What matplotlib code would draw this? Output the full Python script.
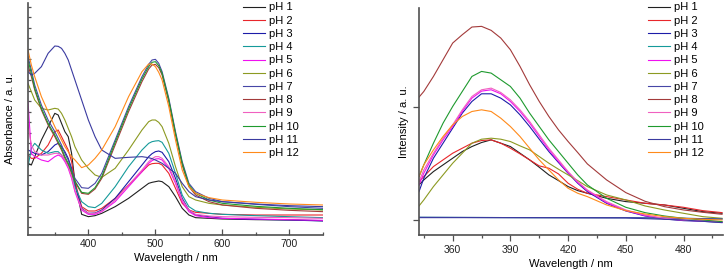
import numpy as np
import matplotlib
matplotlib.use("Agg")
import matplotlib.pyplot as plt
from matplotlib.ticker import FixedLocator, MultipleLocator

plt.rcParams['font.family'] = ['Liberation Sans', 'DejaVu Sans']

labels = ['pH 1', 'pH 2', 'pH 3', 'pH 4', 'pH 5', 'pH 6',
          'pH 7', 'pH 8', 'pH 9', 'pH 10', 'pH 11', 'pH 12']
colors = ['#202020', '#e8262b', '#1c1ca8', '#159a9a', '#f010f0', '#8c9a22',
          '#4646a6', '#a33a3a', '#f060c0', '#1e9a2e', '#3a3aa0', '#ff8a1a']

# absorbance spectra (a.u.)
abs_wl = [310, 315, 320, 330, 340, 350, 355, 360, 365, 370, 375, 380, 390, 400, 410, 420,
          440, 460, 480, 490, 495, 500, 505, 510, 520, 530, 540, 550, 560, 580, 600, 650, 700, 750]
abs_ph1 = [2.15, 2.10, 2.35, 2.85, 3.25, 3.65, 3.60, 3.35, 3.10, 2.95, 2.45, 1.60, 0.62, 0.55, 0.58, 0.65,
           0.85, 1.10, 1.40, 1.55, 1.58, 1.60, 1.62, 1.60, 1.45, 1.15, 0.80, 0.60, 0.52, 0.50, 0.48, 0.46, 0.45, 0.43]
abs_ph2 = [2.40, 2.30, 2.30, 2.45, 2.70, 3.10, 3.15, 2.95, 2.75, 2.55, 2.20, 1.60, 0.85, 0.72, 0.72, 0.80,
           1.10, 1.50, 1.90, 2.10, 2.14, 2.15, 2.15, 2.10, 1.85, 1.40, 0.95, 0.75, 0.68, 0.65, 0.62, 0.60, 0.60, 0.60]
abs_ph3 = [2.55, 2.50, 2.45, 2.40, 2.50, 2.70, 2.75, 2.65, 2.50, 2.30, 2.00, 1.50, 0.80, 0.65, 0.66, 0.75,
           1.10, 1.60, 2.10, 2.35, 2.44, 2.50, 2.52, 2.48, 2.20, 1.70, 1.10, 0.75, 0.60, 0.55, 0.50, 0.47, 0.45, 0.42]
abs_ph4 = [2.05, 2.60, 2.75, 2.55, 2.45, 2.50, 2.50, 2.40, 2.25, 2.10, 1.85, 1.45, 1.00, 0.85, 0.82, 0.95,
           1.45, 2.05, 2.55, 2.75, 2.80, 2.82, 2.83, 2.78, 2.45, 1.85, 1.20, 0.85, 0.72, 0.65, 0.62, 0.58, 0.55, 0.52]
abs_ph5 = [4.00, 2.45, 2.35, 2.25, 2.20, 2.35, 2.40, 2.35, 2.20, 2.00, 1.70, 1.30, 0.75, 0.62, 0.62, 0.70,
           1.00, 1.45, 1.90, 2.15, 2.23, 2.28, 2.29, 2.25, 2.00, 1.55, 1.00, 0.70, 0.58, 0.52, 0.50, 0.48, 0.46, 0.44]
abs_ph6 = [4.55, 4.30, 4.05, 3.80, 3.75, 3.80, 3.78, 3.65, 3.45, 3.20, 2.95, 2.65, 2.25, 2.00, 1.80, 1.73,
           2.00, 2.55, 3.15, 3.40, 3.45, 3.45, 3.38, 3.25, 2.75, 2.05, 1.45, 1.15, 1.05, 0.95, 0.90, 0.83, 0.78, 0.75]
abs_ph7 = [5.35, 4.95, 4.50, 3.90, 3.45, 3.10, 2.90, 2.70, 2.45, 2.25, 1.95, 1.70, 1.42, 1.40, 1.55, 1.85,
           2.85, 3.85, 4.75, 5.12, 5.25, 5.27, 5.15, 4.90, 4.10, 3.10, 2.20, 1.55, 1.30, 1.10, 1.00, 0.92, 0.85, 0.80]
abs_ph8 = [5.10, 4.75, 4.35, 3.75, 3.30, 2.95, 2.75, 2.55, 2.30, 2.10, 1.85, 1.60, 1.25, 1.22, 1.38, 1.70,
           2.70, 3.70, 4.60, 4.98, 5.10, 5.12, 5.02, 4.80, 4.00, 3.00, 2.10, 1.45, 1.20, 1.00, 0.90, 0.80, 0.74, 0.70]
abs_ph9 = [3.30, 2.70, 2.50, 2.40, 2.40, 2.45, 2.45, 2.40, 2.25, 2.05, 1.75, 1.35, 0.78, 0.65, 0.65, 0.72,
           1.05, 1.50, 1.95, 2.20, 2.29, 2.35, 2.35, 2.30, 2.05, 1.60, 1.05, 0.75, 0.62, 0.57, 0.55, 0.53, 0.52, 0.50]
abs_ph10 = [5.25, 4.85, 4.40, 3.80, 3.35, 3.00, 2.80, 2.60, 2.35, 2.15, 1.90, 1.62, 1.28, 1.25, 1.42, 1.75,
            2.78, 3.78, 4.68, 5.05, 5.18, 5.20, 5.08, 4.85, 4.05, 3.05, 2.15, 1.50, 1.25, 1.05, 0.95, 0.86, 0.80, 0.76]
abs_ph11 = [4.90, 4.80, 4.85, 5.05, 5.45, 5.67, 5.66, 5.60, 5.45, 5.25, 4.95, 4.65, 4.05, 3.45, 2.95, 2.55,
            2.30, 2.33, 2.35, 2.32, 2.29, 2.25, 2.20, 2.15, 2.00, 1.85, 1.55, 1.30, 1.15, 1.05, 1.00, 0.93, 0.88, 0.85]
abs_ph12 = [5.55, 5.10, 4.75, 4.15, 3.70, 3.25, 3.05, 2.85, 2.65, 2.50, 2.35, 2.25, 2.02, 2.10, 2.30, 2.55,
            3.25, 4.15, 4.90, 5.13, 5.13, 5.05, 4.88, 4.65, 3.85, 2.85, 1.95, 1.45, 1.25, 1.12, 1.05, 0.98, 0.93, 0.90]

# emission spectra (a.u.)
em_wl = [342.5, 345, 350, 355, 360, 365, 370, 375, 380, 385, 390, 395, 400, 405, 410, 415, 420,
         425, 430, 440, 450, 460, 470, 480, 490, 500]
em_ph1 = [1.05, 1.20, 1.45, 1.65, 1.85, 2.05, 2.20, 2.32, 2.40, 2.30, 2.20, 2.00, 1.80, 1.58, 1.35, 1.18,
          1.00, 0.88, 0.80, 0.65, 0.55, 0.50, 0.45, 0.35, 0.25, 0.20]
em_ph2 = [1.15, 1.30, 1.60, 1.80, 2.00, 2.15, 2.30, 2.38, 2.40, 2.30, 2.15, 1.98, 1.80, 1.62, 1.55, 1.38,
          1.10, 0.92, 0.80, 0.70, 0.60, 0.50, 0.45, 0.38, 0.28, 0.22]
em_ph3 = [0.85, 1.25, 1.85, 2.30, 2.75, 3.20, 3.55, 3.78, 3.78, 3.65, 3.45, 3.15, 2.80, 2.42, 2.05, 1.72,
          1.40, 1.10, 0.85, 0.50, 0.27, 0.12, 0.03, -0.02, -0.04, -0.07]
em_ph5 = [1.05, 1.40, 1.95, 2.40, 2.80, 3.25, 3.65, 3.86, 3.90, 3.78, 3.55, 3.25, 2.90, 2.50, 2.10, 1.75,
          1.42, 1.12, 0.88, 0.52, 0.28, 0.13, 0.04, -0.01, -0.03, -0.06]
em_ph6 = [0.42, 0.60, 1.00, 1.35, 1.70, 2.00, 2.30, 2.42, 2.45, 2.42, 2.35, 2.22, 2.10, 1.90, 1.70, 1.52,
          1.35, 1.18, 1.00, 0.75, 0.60, 0.42, 0.30, 0.20, 0.10, 0.05]
em_ph8 = [3.68, 3.85, 4.30, 4.80, 5.30, 5.55, 5.78, 5.80, 5.68, 5.45, 5.10, 4.60, 4.05, 3.55, 3.10, 2.70,
          2.35, 2.02, 1.68, 1.20, 0.82, 0.56, 0.40, 0.30, 0.23, 0.17]
em_ph9 = [1.15, 1.50, 2.00, 2.45, 2.85, 3.30, 3.70, 3.90, 3.95, 3.82, 3.60, 3.30, 2.95, 2.55, 2.15, 1.80,
          1.45, 1.15, 0.90, 0.55, 0.30, 0.15, 0.05, 0.00, -0.02, -0.05]
em_ph10 = [1.30, 1.65, 2.30, 2.90, 3.40, 3.85, 4.30, 4.45, 4.40, 4.20, 4.00, 3.65, 3.20, 2.80, 2.40, 2.05,
           1.70, 1.35, 1.05, 0.65, 0.38, 0.22, 0.12, 0.05, 0.00, -0.05]
em_ph12 = [1.30, 1.65, 2.10, 2.50, 2.85, 3.10, 3.25, 3.30, 3.25, 3.05, 2.80, 2.50, 2.15, 1.80, 1.50, 1.20,
           0.95, 0.80, 0.70, 0.45, 0.28, 0.18, 0.10, 0.05, 0.02, 0.00]
# the non-emissive samples
flat_wl = [342.5, 400, 450, 480, 500]
em_ph4 = [0.08, 0.07, 0.07, 0.05, 0.03]
em_ph7 = [0.08, 0.07, 0.07, 0.05, 0.03]
em_ph11 = [0.07, 0.07, 0.06, 0.00, -0.08]

abs_all = [abs_ph1, abs_ph2, abs_ph3, abs_ph4, abs_ph5, abs_ph6,
           abs_ph7, abs_ph8, abs_ph9, abs_ph10, abs_ph11, abs_ph12]
em_all = [(em_wl, em_ph1), (em_wl, em_ph2), (em_wl, em_ph3), (flat_wl, em_ph4),
          (em_wl, em_ph5), (em_wl, em_ph6), (flat_wl, em_ph7), (em_wl, em_ph8),
          (em_wl, em_ph9), (em_wl, em_ph10), (flat_wl, em_ph11), (em_wl, em_ph12)]

W, H = 727, 270
fig = plt.figure(figsize=(W / 100, H / 100), dpi=100)
ax1 = fig.add_axes([28 / W, 35 / H, 295 / W, 232 / H])
ax2 = fig.add_axes([419 / W, 35 / H, 304 / W, 227 / H])

spine_c = '#505050'
for ax in (ax1, ax2):
    for s in ('top', 'right'):
        ax.spines[s].set_visible(False)
    for s in ('left', 'bottom'):
        ax.spines[s].set_color(spine_c)
        ax.spines[s].set_linewidth(1.2)
    ax.tick_params(colors=spine_c, labelcolor='#222222', labelsize=7.5, width=0.9)

leg_kw = dict(loc='upper left', bbox_transform=fig.transFigure, frameon=False, fontsize=8,
              handlelength=2.0, handletextpad=0.35, labelspacing=0.29,
              borderpad=0.0, borderaxespad=0.0)

# left: absorbance
for i in range(12):
    ax1.plot(abs_wl, abs_all[i], color=colors[i], lw=0.8, label=labels[i])
ax1.set_xlim(310, 750)
ax1.set_ylim(0, 6.96)
ax1.xaxis.set_major_locator(MultipleLocator(100))
ax1.xaxis.set_minor_locator(MultipleLocator(50))
ax1.yaxis.set_major_locator(FixedLocator(np.arange(0.24, 6.9, 0.315)))
ax1.set_yticklabels([])
ax1.tick_params(axis='both', which='both', direction='in')
ax1.tick_params(axis='x', which='major', length=4, pad=3)
ax1.tick_params(axis='x', which='minor', length=2.5, width=0.9, colors=spine_c)
ax1.tick_params(axis='y', which='major', length=2.5)
ax1.set_xlabel('Wavelength / nm', fontsize=8, labelpad=3)
ax1.set_ylabel('Absorbance / a. u.', fontsize=8, labelpad=6)
ax1.legend(bbox_to_anchor=(243 / W, 1 - 2.5 / H), **leg_kw)

# right: emission
for i in range(12):
    x, y = em_all[i]
    ax2.plot(x, y, color=colors[i], lw=0.8, label=labels[i])
ax2.set_xlim(342.5, 500.5)
ax2.set_ylim(-0.45, 6.35)
ax2.xaxis.set_major_locator(MultipleLocator(30))
ax2.xaxis.set_minor_locator(MultipleLocator(15))
ax2.yaxis.set_major_locator(FixedLocator([0, 3.38]))
ax2.set_yticklabels([])
ax2.tick_params(axis='both', which='both', direction='out')
ax2.tick_params(axis='x', which='major', length=4, pad=3)
ax2.tick_params(axis='x', which='minor', length=2.5, width=0.9, colors=spine_c)
ax2.tick_params(axis='y', which='major', length=4)
ax2.set_xlabel('Wavelength / nm', fontsize=8, labelpad=3)
ax2.set_ylabel('Intensity / a. u.', fontsize=8, labelpad=0)
ax2.legend(bbox_to_anchor=(648 / W, 1 - 2.5 / H), **leg_kw)

fig.savefig('out.png', dpi=100)
